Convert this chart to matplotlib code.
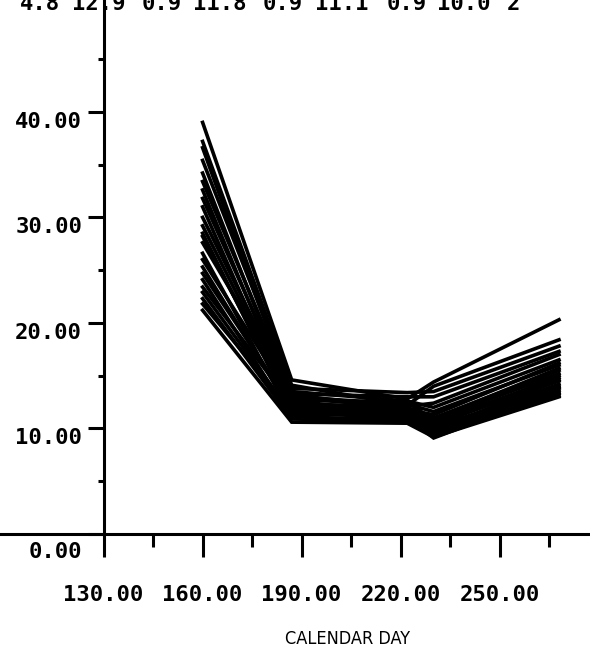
import numpy as np
import matplotlib.pyplot as plt
from matplotlib.ticker import FixedLocator
import matplotlib.transforms as mtransforms

# sampling days of each profile
days = [160, 187, 222, 230, 268]

# one value per profile at each sampling day
d160 = [39.0, 37.2, 36.6, 35.4, 34.2, 33.4, 32.6, 31.8, 31.0, 30.0, 29.2, 28.5,
        28.2, 27.6, 26.6, 26.0, 25.3, 24.7, 24.1, 23.4, 22.9, 22.3, 21.8, 21.2]
d187 = [14.6, 14.1, 13.2, 13.8, 12.6, 13.5, 12.2, 13.0, 11.8, 12.9, 12.4, 11.5,
        12.0, 13.3, 11.2, 12.7, 11.6, 12.1, 11.0, 12.3, 11.4, 10.9, 11.7, 10.6]
d222 = [12.8, 12.2, 11.9, 13.4, 11.5, 12.6, 11.0, 12.3, 10.8, 12.0, 11.7, 11.2,
        11.4, 13.0, 10.6, 12.5, 11.3, 11.8, 10.9, 12.1, 11.1, 10.7, 11.6, 10.5]
d230 = [14.4, 14.0, 10.2, 13.5, 9.8, 12.0, 9.1, 11.6, 9.5, 11.0, 10.6, 10.0,
        9.6, 13.0, 9.3, 10.8, 10.4, 11.3, 9.7, 12.4, 10.1, 9.4, 10.9, 9.2]
d268 = [20.3, 18.4, 15.0, 17.8, 14.6, 16.5, 13.6, 16.0, 13.3, 15.5, 14.8, 14.2,
        13.8, 17.3, 13.1, 15.2, 14.5, 16.2, 13.9, 17.0, 14.0, 13.4, 15.7, 13.0]

x_major = [130, 160, 190, 220, 250]
x_minor = [145, 175, 205, 235, 265]
y_major = [0, 10, 20, 30, 40]
y_minor = [5, 15, 25, 35, 45]

# clipped header row at the top of the page
header = ["4.8", "12.9", "0.9", "11.8", "0.9", "11.1", "0.9", "10.0", "2"]
header_px = [20, 72, 142, 193, 263, 315, 387, 437, 507]

W, H = 590, 667
fig = plt.figure(figsize=(W / 100, H / 100), dpi=100)
ax = fig.add_axes([0, 0, 1, 1])

profiles = np.array([d160, d187, d222, d230, d268])
for k in range(profiles.shape[1]):
    ax.plot(days, profiles[:, k], color='black', lw=2.6, solid_joinstyle='miter')

ax.set_xlim(98.6, 277.4)
ax.set_ylim(-12.6, 50.6)

for s in ['top', 'right']:
    ax.spines[s].set_visible(False)
ax.spines['left'].set_position(('data', 130))
ax.spines['bottom'].set_position(('data', 0))
ax.spines['left'].set_bounds(0, 50.6)
ax.spines['left'].set_linewidth(2.2)
ax.spines['bottom'].set_linewidth(2.2)

ax.xaxis.set_major_locator(FixedLocator(x_major))
ax.xaxis.set_minor_locator(FixedLocator(x_minor))
ax.yaxis.set_major_locator(FixedLocator(y_major))
ax.yaxis.set_minor_locator(FixedLocator(y_minor))
ax.set_xticklabels(['%.2f' % v for v in x_major])
ax.set_yticklabels(['%.2f' % v for v in y_major])

mono = dict(family='DejaVu Sans Mono', weight='bold', size=16)
ax.tick_params(axis='x', which='major', direction='out', length=16.5, width=2.2, pad=20)
ax.tick_params(axis='x', which='minor', direction='out', length=9.4, width=2.2)
ax.tick_params(axis='y', which='major', direction='out', length=11.5, width=2.2, pad=4)
ax.tick_params(axis='y', which='minor', direction='out', length=4.3, width=2.2)

for lab in ax.get_xticklabels():
    lab.set_fontproperties(mono)
for lab in ax.get_yticklabels():
    lab.set_fontproperties(mono)
    lab.set_va('top')
# the 0.00 label sits a little lower
zero = ax.get_yticklabels()[0]
zero.set_transform(zero.get_transform() +
                   mtransforms.ScaledTranslation(0, -8 / 100, fig.dpi_scale_trans))

for txt, px in zip(header, header_px):
    ax.text(px / W, 1 - 10 / H, txt, transform=ax.transAxes, ha='left',
            va='baseline', **mono)

ax.text(347 / W, 1 - 639 / H, 'CALENDAR DAY', transform=ax.transAxes,
        ha='center', va='center', family='DejaVu Sans', stretch='condensed',
        size=13)

fig.savefig('out.png', dpi=100)
